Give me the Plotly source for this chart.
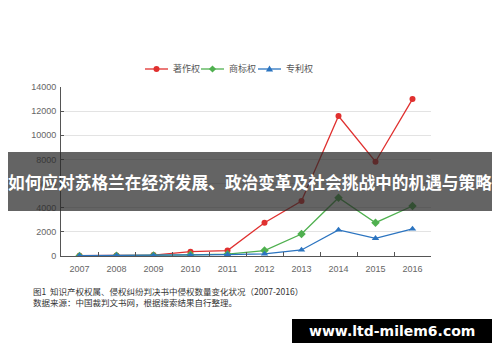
import plotly.graph_objects as go

years = ["2007", "2008", "2009", "2010", "2011", "2012", "2013", "2014", "2015", "2016"]
copyright_vals = [20, 40, 80, 360, 450, 2760, 4560, 11600, 7810, 13000]
trademark_vals = [10, 20, 40, 100, 150, 450, 1820, 4830, 2760, 4140]
patent_vals = [30, 40, 50, 60, 120, 170, 500, 2160, 1470, 2240]
series_names = ["著作权", "商标权", "专利权"]
y_ticks = [0, 2000, 4000, 6000, 8000, 10000, 12000, 14000]

title_text = "如何应对苏格兰在经济发展、政治变革及社会挑战中的机遇与策略"
caption1 = "图1  知识产权权属、侵权纠纷判决书中侵权数量变化状况（2007-2016）"
caption2 = "数据来源：中国裁判文书网，根据搜索结果自行整理。"
watermark = "www.ltd-milem6.com"

CJK = "Noto Sans CJK SC"

# page body has an 8px margin, so the figure is drawn 8px in from the corner
W, H = 492, 354

colors = ["#e0302f", "#4fb04f", "#2b74c0"]
symbols = ["circle", "diamond", "triangle-up"]
sizes = [6, 6.5, 6.5]

fig = go.Figure()
for name, vals, col, sym, sz in zip(series_names, [copyright_vals, trademark_vals, patent_vals],
                                    colors, symbols, sizes):
    fig.add_trace(go.Scatter(
        x=years, y=vals, name=name, mode="lines+markers",
        line=dict(color=col, width=1.3),
        marker=dict(color=col, symbol=sym, size=sz),
        showlegend=False,
    ))

fig.update_layout(
    width=W, height=H,
    margin=dict(l=53, r=69, t=79, b=106, autoexpand=False),
    paper_bgcolor="white", plot_bgcolor="white",
    font=dict(family=CJK, color="#555555", size=9),
    showlegend=False,
    xaxis=dict(
        type="category", tickson="boundaries", ticks="inside", ticklen=4,
        tickcolor="#555555", showline=True, linecolor="#555555", linewidth=1,
        showgrid=False, tickfont=dict(size=9, color="#666666", family="Liberation Sans"),
        range=[-0.5, 9.5], automargin=False, ticklabelstandoff=4,
    ),
    yaxis=dict(
        range=[0, 14000], tickvals=y_ticks, tickformat="d", ticks="inside", ticklen=3,
        tickcolor="#555555", showline=True, linecolor="#555555", linewidth=1,
        showgrid=True, gridcolor="#e3e3e3", zeroline=False,
        tickfont=dict(size=9, color="#666666", family="Liberation Sans"),
        ticklabelstandoff=2, automargin=False,
    ),
)

def px_x(p):
    return (p - 61) / 370.0

def px_y(p):
    return (256 - p) / 169.0

shapes = []

# custom legend (line sample + marker + label)
leg_y = px_y(69)
leg_starts = [145, 201, 258]
marker_paths = {
    "circle": None,
    "diamond": "M0,3.6 L3.6,0 L0,-3.6 L-3.6,0 Z",
    "triangle-up": "M-3.6,-2.6 L3.6,-2.6 L0,3.6 Z",
}
for name, col, sym, x0 in zip(series_names, colors, symbols, leg_starts):
    shapes.append(dict(type="line", xref="paper", yref="paper",
                       x0=px_x(x0), x1=px_x(x0 + 23), y0=leg_y, y1=leg_y,
                       line=dict(color=col, width=1.3), layer="above"))
    cx = px_x(x0 + 11.5)
    if sym == "circle":
        shapes.append(dict(type="circle", xref="paper", yref="paper",
                           xsizemode="pixel", ysizemode="pixel",
                           xanchor=cx, yanchor=leg_y, x0=-3, x1=3, y0=-3, y1=3,
                           fillcolor=col, line=dict(width=0), layer="above"))
    else:
        shapes.append(dict(type="path", xref="paper", yref="paper",
                           xsizemode="pixel", ysizemode="pixel",
                           xanchor=cx, yanchor=leg_y, path=marker_paths[sym],
                           fillcolor=col, line=dict(width=0), layer="above"))
    fig.add_annotation(text=name, xref="paper", yref="paper",
                       x=px_x(x0 + 26), y=leg_y, showarrow=False,
                       xanchor="left", yanchor="middle",
                       font=dict(family=CJK, size=9, color="#555555"))

shapes += [
    dict(type="rect", xref="paper", yref="paper",
         x0=px_x(0), x1=px_x(500), y0=px_y(211), y1=px_y(152),
         fillcolor="rgba(40,40,40,0.72)", line=dict(width=0), layer="above"),
    dict(type="rect", xref="paper", yref="paper",
         x0=px_x(292), x1=px_x(492), y0=px_y(343), y1=px_y(319),
         fillcolor="black", line=dict(width=0), layer="above"),
]
fig.update_layout(shapes=shapes)

fig.add_annotation(
    text="<b>" + title_text + "</b>", xref="paper", yref="paper",
    x=px_x(250), y=px_y(182), showarrow=False, xanchor="center", yanchor="middle",
    font=dict(family=CJK, size=16.7, color="white"),
)
fig.add_annotation(
    text="<b>" + watermark + "</b>", xref="paper", yref="paper",
    x=px_x(392), y=px_y(331), showarrow=False, xanchor="center", yanchor="middle",
    font=dict(family="DejaVu Sans", size=14, color="white"),
)
fig.add_annotation(
    text=caption1, xref="paper", yref="paper",
    x=px_x(31), y=px_y(291), showarrow=False, xanchor="left", yanchor="middle",
    font=dict(family=CJK, size=8.5, color="#333333"),
)
fig.add_annotation(
    text=caption2, xref="paper", yref="paper",
    x=px_x(31), y=px_y(302), showarrow=False, xanchor="left", yanchor="middle",
    font=dict(family=CJK, size=8.5, color="#333333"),
)

fig.write_html("out.html")
